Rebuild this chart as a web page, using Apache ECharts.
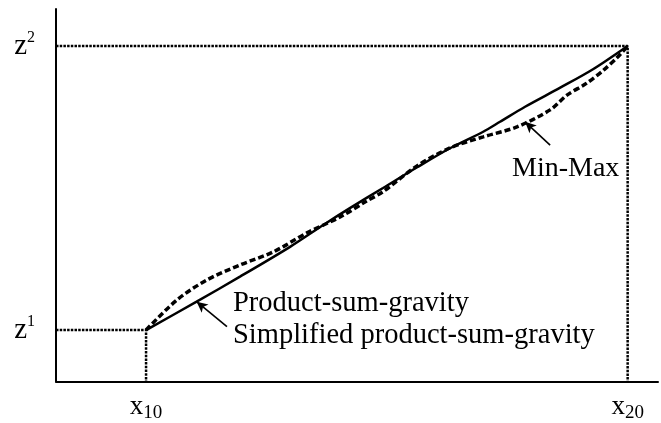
<!DOCTYPE html>
<html>
<head>
<meta charset="utf-8">
<script src="https://cdn.jsdelivr.net/npm/echarts@6/dist/echarts.min.js"></script>
<style>
  html, body { margin: 0; padding: 0; background: #fff; }
  #chart { width: 661px; height: 423px; }
</style>
</head>
<body>
<div id="chart"></div>
<script>
// Input runs from x10 (0) to x20 (1); output from z1 (0) to z2 (1).
const psgX = [0, 0.105, 0.195, 0.299, 0.368, 0.424, 0.492, 0.562, 0.631, 0.700, 0.735, 0.787, 0.860, 0.928, 1];
const psgY = [0, 0.100, 0.188, 0.293, 0.370, 0.430, 0.500, 0.572, 0.640, 0.698, 0.733, 0.786, 0.853, 0.918, 1];
const minMaxX = [0, 0.064, 0.126, 0.195, 0.264, 0.334, 0.403, 0.458, 0.492, 0.562, 0.631, 0.700, 0.770, 0.839, 0.874, 0.915, 0.950, 0.977, 1];
const minMaxY = [0, 0.106, 0.176, 0.229, 0.275, 0.342, 0.398, 0.454, 0.487, 0.577, 0.641, 0.680, 0.715, 0.775, 0.827, 0.869, 0.915, 0.957, 1];
const xTickValues = [0, 1];
const xTickLabels = ['10', '20'];
const yTickValues = [0, 1];
const yTickLabels = ['1', '2'];

const X_MIN = -0.187, X_MAX = 1.063;
const Y_MIN = -0.181, Y_MAX = 1.130;
const FONT = '"Liberation Serif", "Times New Roman", serif';

const zip = (xs, ys) => xs.map((x, i) => [x, ys[i]]);

const chart = echarts.init(document.getElementById('chart'), null, { renderer: 'canvas' });

// dotted guides from each axis to the curve ends
const guideStyle = { color: '#000', width: 2.5, type: [2.5, 1.2] };

chart.setOption({
  animation: false,
  backgroundColor: '#fff',
  grid: { left: 56, right: 3, top: 9, bottom: 41.5 },
  xAxis: {
    type: 'value', min: X_MIN, max: X_MAX,
    axisLine: { show: true, onZero: false, lineStyle: { color: '#000', width: 2 } },
    axisTick: { show: false },
    splitLine: { show: false },
    axisLabel: {
      customValues: xTickValues,
      margin: 10,
      formatter: v => '{b|x}{s|' + xTickLabels[xTickValues.indexOf(v)] + '}',
      rich: {
        b: { fontFamily: FONT, fontSize: 27, color: '#000' },
        s: { fontFamily: FONT, fontSize: 19, color: '#000', padding: [12, 0, 0, 0] }
      }
    }
  },
  yAxis: {
    type: 'value', min: Y_MIN, max: Y_MAX,
    axisLine: { show: true, onZero: false, lineStyle: { color: '#000', width: 2 } },
    axisTick: { show: false },
    splitLine: { show: false },
    axisLabel: {
      customValues: yTickValues,
      margin: 21,
      formatter: v => '{b|z}{s|' + yTickLabels[yTickValues.indexOf(v)] + '}',
      rich: {
        b: { fontFamily: FONT, fontSize: 29, color: '#000' },
        s: { fontFamily: FONT, fontSize: 16, color: '#000', padding: [0, 0, 16, 0] }
      }
    }
  },
  series: [
    {
      name: 'guide-low', type: 'line', symbol: 'none', silent: true,
      data: [[X_MIN, yTickValues[0]], [xTickValues[0], yTickValues[0]], [xTickValues[0], Y_MIN]],
      lineStyle: guideStyle
    },
    {
      name: 'guide-high', type: 'line', symbol: 'none', silent: true,
      data: [[X_MIN, yTickValues[1]], [xTickValues[1], yTickValues[1]], [xTickValues[1], Y_MIN]],
      lineStyle: guideStyle
    },
    {
      name: 'Product-sum-gravity', type: 'line', symbol: 'none', smooth: 0.3,
      data: zip(psgX, psgY),
      lineStyle: { color: '#000', width: 2.5 },
      markLine: {
        silent: true, symbol: ['none', 'arrow'], symbolSize: [8, 11],
        label: { show: false },
        lineStyle: { color: '#000', width: 1.6, type: 'solid' },
        data: [[{ coord: [0.168, 0.012] }, { coord: [0.105, 0.100] }]]
      }
    },
    {
      name: 'Min-Max', type: 'line', symbol: 'none', smooth: 0.3,
      data: zip(minMaxX, minMaxY),
      lineStyle: { color: '#000', width: 3.5, type: [6, 3] },
      markLine: {
        silent: true, symbol: ['none', 'arrow'], symbolSize: [8, 11],
        label: { show: false },
        lineStyle: { color: '#000', width: 1.6, type: 'solid' },
        data: [[{ coord: [0.839, 0.651] }, { coord: [0.787, 0.733] }]]
      }
    }
  ],
  graphic: [
    { type: 'text', x: 233, y: 304, style: { text: 'Product-sum-gravity', fontFamily: FONT, fontSize: 28.5, fill: '#000', verticalAlign: 'middle' } },
    { type: 'text', x: 233, y: 336, style: { text: 'Simplified product-sum-gravity', fontFamily: FONT, fontSize: 28.5, fill: '#000', verticalAlign: 'middle' } },
    { type: 'text', x: 512, y: 169, style: { text: 'Min-Max', fontFamily: FONT, fontSize: 28, fill: '#000', verticalAlign: 'middle' } }
  ]
});
</script>
</body>
</html>
